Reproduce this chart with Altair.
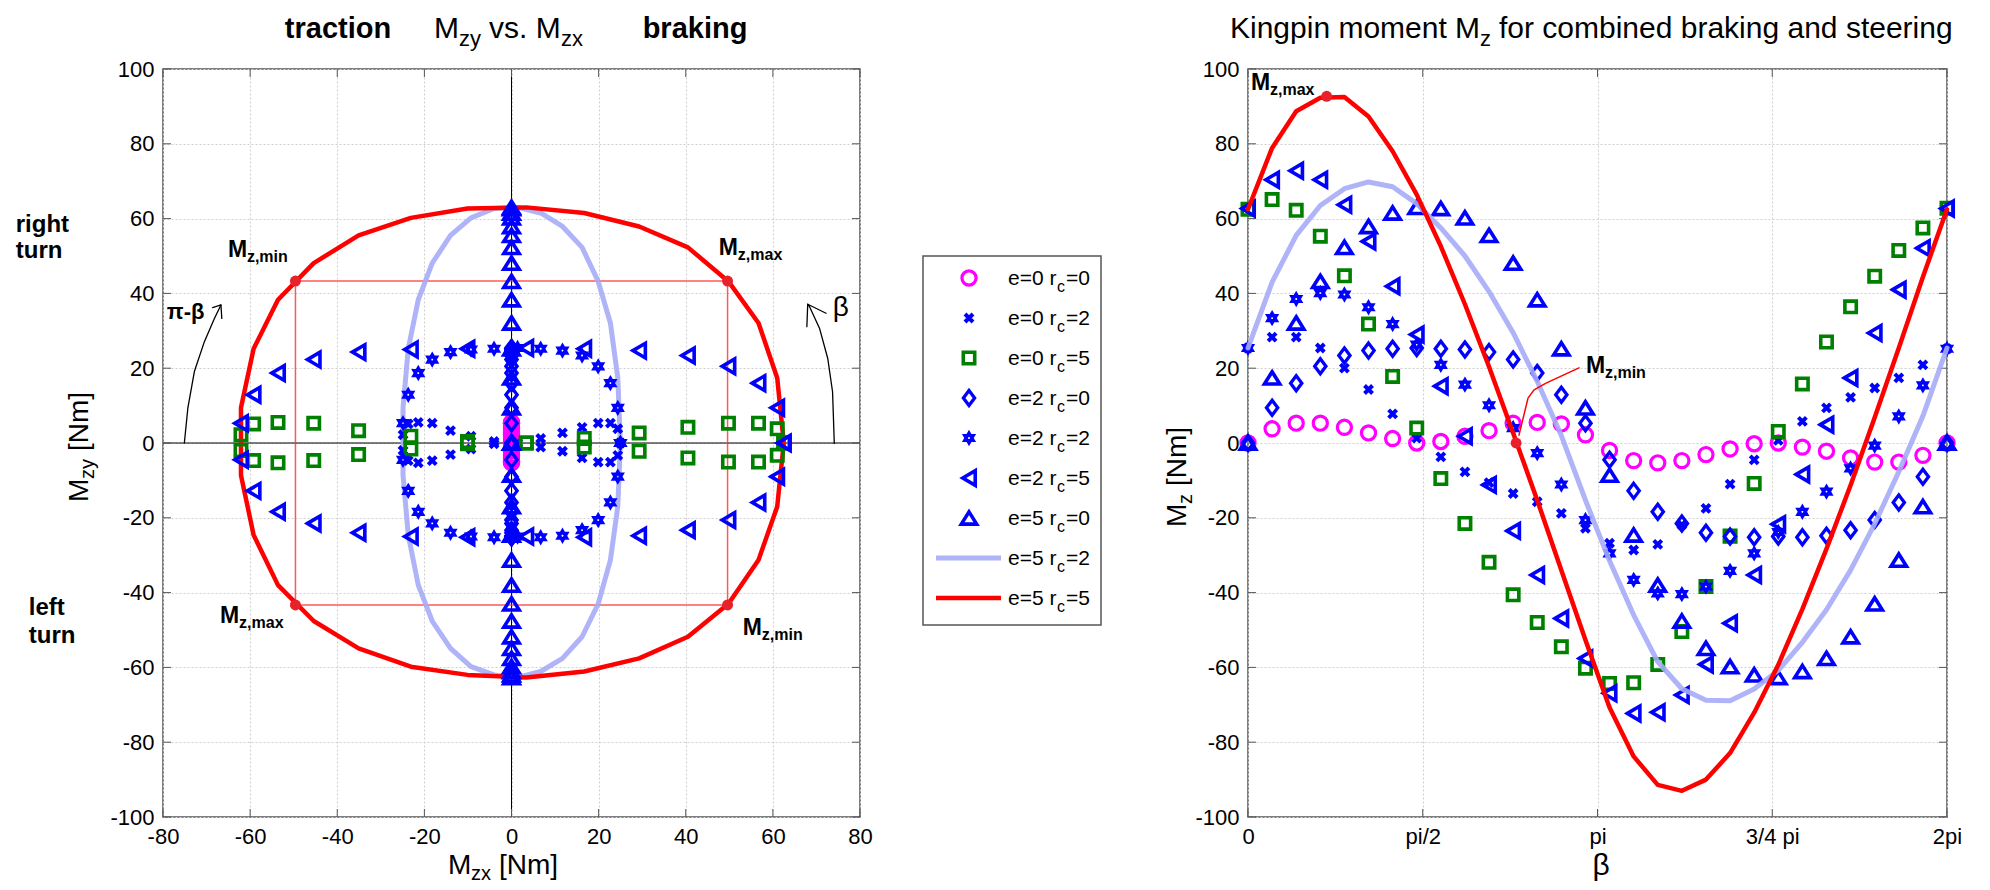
import altair as alt
import pandas as pd

FONT = "Liberation Sans"
BLUE = "#0000ff"
RED = "#ff0000"
GREEN = "#008000"
MAGENTA = "#ff00ff"
LIGHT = "#a6abf7"
MARK_RED = "#e8222a"
GRID = "#cfcfcf"
FRAME = "#555555"

# ---------------- data ----------------
beta = [0.0, 0.2167, 0.4333, 0.6500, 0.8666, 1.0833, 1.3000, 1.5166, 1.7333, 1.9500,
        2.1666, 2.3833, 2.5999, 2.8166, 3.0333, 3.2499, 3.4666, 3.6833, 3.8999, 4.1166,
        4.3332, 4.5499, 4.7666, 4.9832, 5.1999, 5.4166, 5.6332, 5.8499, 6.0665, 6.2832]

# horizontal components M_zx (depend on r_c)
mzx_rc0 = [0.0, 0.0, 0.0, 0.0, 0.0, 0.0, 0.0, 0.0, 0.0, 0.0, 0.0, 0.0, 0.0, 0.0, 0.0,
           0.0, 0.0, 0.0, 0.0, 0.0, 0.0, 0.0, 0.0, 0.0, 0.0, 0.0, 0.0, 0.0, 0.0, 0.0]
mzx_rc2 = [25.0, 24.4, 22.7, 19.9, 16.2, 11.7, 6.7, 1.4, -4.0, -9.3, -14.0, -18.2, -21.4, -23.7, -24.9,
           -24.9, -23.7, -21.4, -18.2, -14.0, -9.3, -4.0, 1.4, 6.7, 11.7, 16.2, 19.9, 22.7, 24.4, 25.0]
mzx_rc5 = [62.5, 61.0, 56.7, 49.8, 40.5, 29.3, 16.7, 3.4, -10.1, -23.1, -35.1, -45.4, -53.6, -59.2, -62.1,
           -62.1, -59.2, -53.6, -45.4, -35.1, -23.1, -10.1, 3.4, 16.7, 29.3, 40.5, 49.8, 56.7, 61.0, 62.5]

# vertical components M_zy (depend on e) == M_z for r_c = 0
mz_e0_rc0 = [0.0, 3.8, 5.3, 5.3, 4.2, 2.7, 1.2, 0.0, 0.4, 1.8, 3.3, 5.3, 5.5, 5.1, 2.2,
             -2.0, -4.7, -5.3, -4.7, -3.1, -1.6, -0.2, 0.0, -1.1, -2.2, -4.0, -5.1, -5.1, -3.3, 0.0]
mz_e2_rc0 = [0.0, 9.4, 16.0, 20.5, 23.4, 24.7, 25.2, 25.4, 25.2, 25.0, 24.3, 22.3, 18.7, 12.9, 5.3,
             -4.5, -12.8, -18.4, -21.5, -24.0, -25.0, -25.2, -25.0, -25.2, -24.8, -23.3, -20.6, -15.9, -9.0, 0.0]
mz_e5_rc0 = [0.0, 17.4, 32.1, 43.2, 52.3, 57.9, 61.5, 63.0, 62.7, 60.2, 55.5, 48.1, 38.3, 25.2, 9.4,
             -8.6, -24.6, -38.0, -47.6, -54.9, -59.8, -62.0, -62.7, -61.1, -57.6, -51.8, -43.0, -31.3, -17.0, 0.0]

# total kingpin moment M_z for the other combinations
mz_e0_rc2 = [25.4, 28.3, 28.3, 25.4, 20.0, 14.3, 7.8, 1.3, -3.7, -7.7, -10.6, -13.5, -15.7, -18.8, -22.8,
             -26.8, -28.6, -27.1, -21.9, -17.5, -11.0, -4.5, 0.7, 5.8, 9.4, 12.2, 14.7, 17.4, 20.9, 25.2]
mz_e0_rc5 = [62.5, 65.1, 62.2, 55.3, 44.7, 31.8, 17.8, 4.0, -9.5, -21.5, -31.9, -40.6, -48.0, -54.5, -60.2,
             -64.3, -64.1, -59.2, -50.4, -38.4, -24.9, -10.8, 3.1, 15.8, 27.0, 36.4, 44.6, 51.5, 57.5, 62.8]
mz_e2_rc2 = [25.4, 33.4, 38.5, 40.1, 39.7, 36.3, 31.8, 26.3, 20.9, 15.6, 10.1, 4.0, -2.7, -11.1, -20.6,
             -29.5, -36.6, -40.2, -40.4, -38.4, -34.2, -29.5, -23.8, -18.4, -13.0, -6.8, -0.7, 7.1, 15.4, 25.2]
mz_e2_rc5 = [62.7, 70.4, 72.8, 70.4, 63.7, 53.9, 41.9, 29.0, 15.2, 1.8, -11.2, -23.5, -35.3, -46.9, -57.6,
             -66.9, -72.3, -72.0, -67.4, -59.2, -48.2, -35.3, -21.7, -8.4, 4.9, 17.4, 29.4, 41.0, 52.1, 62.7]
mz_e5_rc2 = [25.4, 43.0, 55.5, 63.5, 68.0, 69.8, 68.5, 64.0, 57.5, 50.0, 40.5, 29.5, 16.5, 2.0, -15.3,
             -31.5, -46.0, -58.5, -65.7, -68.8, -68.9, -65.8, -60.8, -53.3, -44.6, -34.0, -21.6, -7.7, 7.2, 25.4]
mz_e5_rc5 = [62.5, 78.9, 88.7, 92.3, 92.5, 87.3, 78.0, 66.4, 52.6, 37.1, 20.4, 2.7, -15.3, -34.0, -52.7,
             -70.7, -83.8, -91.4, -93.0, -90.0, -82.9, -72.1, -59.3, -44.4, -28.3, -11.3, 6.8, 25.4, 44.4, 62.5]

# special points
box_x = [-49.6, 49.6, 49.6, -49.6, -49.6]
box_y = [43.3, 43.3, -43.3, -43.3, 43.3]
left_mark_x = [49.6, -49.6, -49.6, 49.6]
left_mark_y = [43.3, 43.3, -43.3, -43.3]
right_mark_beta = [0.707, 2.41]
right_mark_mz = [92.7, 0.0]

# tick values / labels
lx_ticks = [-80, -60, -40, -20, 0, 20, 40, 60, 80]
y_ticks = [-100, -80, -60, -40, -20, 0, 20, 40, 60, 80, 100]
rx_ticks = [0.0, 1.5708, 3.1416, 4.7124, 6.2832]
rx_tick_labels = ["0", "pi/2", "pi", "3/4 pi", "2pi"]

legend_e = ["0", "0", "0", "2", "2", "2", "5", "5", "5"]
legend_rc = ["0", "2", "5", "0", "2", "5", "0", "2", "5"]

# ---------------- styles ----------------
XPATH = "M-1,-1L1,1M-1,1L1,-1"
DIAM = "M0,-1L0.75,0L0,1L-0.75,0Z"
HEX = "M0,-1L0.866,0.5L-0.866,0.5Z M0,1L-0.866,-0.5L0.866,-0.5Z"
TRIL = "M-0.85,0L0.85,-1L0.85,1Z"
TRIU = "M0,-0.8L1,0.8L-1,0.8Z"

ST = {
    "e0rc0": dict(shape="circle", color=MAGENTA, size=200, sw=3.2),
    "e0rc2": dict(shape=XPATH, color=BLUE, size=64, sw=4.0),
    "e0rc5": dict(shape="square", color=GREEN, size=130, sw=3.6),
    "e2rc0": dict(shape=DIAM, color=BLUE, size=225, sw=3.3),
    "e2rc2": dict(shape=HEX, color=BLUE, size=100, sw=3.2),
    "e2rc5": dict(shape=TRIL, color=BLUE, size=215, sw=3.6),
    "e5rc0": dict(shape=TRIU, color=BLUE, size=235, sw=3.6),
}

LW, LH = 697, 748
RW, RH = 699, 748
GW = 328

LXS = alt.Scale(domain=[-80, 80], nice=False, zero=False)
YS = alt.Scale(domain=[-100, 100], nice=False, zero=False)
RXS = alt.Scale(domain=[0, 6.2832], nice=False, zero=False)


def mk_axis(vals, expr):
    return alt.Axis(values=vals, title=None, grid=True, gridColor=GRID, gridDash=[2, 2], gridWidth=1,
                    ticks=False, domain=False, labelFontSize=22, labelFont=FONT, labelColor="black",
                    labelPadding=9, labelFlush=False, labelOverlap=False, labelExpr=expr)


rx_expr = " : ".join(f"abs(datum.value - {v}) < 0.01 ? '{l}'" for v, l in zip(rx_ticks, rx_tick_labels)) + " : ''"
num_expr = "'' + datum.value"
LXA = mk_axis(lx_ticks, num_expr)
LYA = mk_axis(y_ticks, num_expr)
RXA = mk_axis(rx_ticks, rx_expr)
RYA = mk_axis(y_ticks, num_expr)


def lx(f):
    return alt.X(f, type="quantitative", scale=LXS, axis=LXA)


def ly(f):
    return alt.Y(f, type="quantitative", scale=YS, axis=LYA)


def rx(f):
    return alt.X(f, type="quantitative", scale=RXS, axis=RXA)


def ry(f):
    return alt.Y(f, type="quantitative", scale=YS, axis=RYA)


ONE = pd.DataFrame({"d": [0]})


def scatter(xs, ys, key, xe, ye):
    st = ST[key]
    df = pd.DataFrame({"x": xs, "y": ys})
    return alt.Chart(df).mark_point(shape=st["shape"], size=st["size"], strokeWidth=st["sw"],
                                    color=st["color"], filled=False, opacity=1).encode(x=xe("x"), y=ye("y"))


def curve(xs, ys, xe, ye, color, width, opacity=1.0, detail=None):
    df = pd.DataFrame({"x": xs, "y": ys, "k": list(range(len(xs)))})
    enc = dict(x=xe("x"), y=ye("y"), order="k:Q")
    if detail is not None:
        df["g"] = detail
        enc["detail"] = "g:N"
    return alt.Chart(df).mark_line(color=color, strokeWidth=width, opacity=opacity,
                                   strokeCap="round", strokeJoin="round").encode(**enc)


def dtext(x, y, text, xe, ye, size, bold=False, align="left", baseline="alphabetic", dx=0, dy=0):
    df = pd.DataFrame({"x": [x], "y": [y]})
    return alt.Chart(df).mark_text(text=text, font=FONT, fontSize=size, fontWeight="bold" if bold else "normal",
                                   align=align, baseline=baseline, dx=dx, dy=dy, color="black").encode(
        x=xe("x"), y=ye("y"))


def ptext(x, y, text, size, bold=False, align="left", baseline="alphabetic", angle=0):
    kw = dict(text=text, font=FONT, fontSize=size, fontWeight="bold" if bold else "normal",
              align=align, baseline=baseline, color="black")
    if angle:
        kw["angle"] = angle
    return alt.Chart(ONE).mark_text(**kw).encode(x=alt.value(x), y=alt.value(y))


def inner_ticks(xvals, yvals, xe, ye, W, H):
    dx = pd.DataFrame({"v": xvals})
    dy = pd.DataFrame({"v": yvals})
    c = dict(color=FRAME, strokeWidth=1)
    return [
        alt.Chart(dx).mark_rule(**c).encode(x=xe("v"), y=alt.value(0), y2=alt.value(8)),
        alt.Chart(dx).mark_rule(**c).encode(x=xe("v"), y=alt.value(H - 8), y2=alt.value(H)),
        alt.Chart(dy).mark_rule(**c).encode(y=ye("v"), x=alt.value(0), x2=alt.value(8)),
        alt.Chart(dy).mark_rule(**c).encode(y=ye("v"), x=alt.value(W - 8), x2=alt.value(W)),
    ]


def mlabel(x, y, sub, xe, ye):
    return [dtext(x, y, "M", xe, ye, 23, bold=True),
            dtext(x, y, sub, xe, ye, 16, bold=True, dx=19, dy=5)]


# ---------------- left panel ----------------
L = []
L.append(alt.Chart(pd.DataFrame({"v": [0]})).mark_rule(color="black", strokeWidth=1).encode(x=lx("v")))
L.append(alt.Chart(pd.DataFrame({"v": [0]})).mark_rule(color="black", strokeWidth=1).encode(y=ly("v")))
L += inner_ticks(lx_ticks, y_ticks, lx, ly, LW, LH)
L.append(curve(box_x, box_y, lx, ly, "#ff3030", 1.5, 0.8))
L.append(curve(mzx_rc2, mz_e5_rc0, lx, ly, LIGHT, 5, 0.9))
L.append(curve(mzx_rc5, mz_e5_rc0, lx, ly, RED, 4.5))
L.append(scatter(mzx_rc0, mz_e0_rc0, "e0rc0", lx, ly))
L.append(scatter(mzx_rc2, mz_e0_rc0, "e0rc2", lx, ly))
L.append(scatter(mzx_rc5, mz_e0_rc0, "e0rc5", lx, ly))
L.append(scatter(mzx_rc0, mz_e2_rc0, "e2rc0", lx, ly))
L.append(scatter(mzx_rc2, mz_e2_rc0, "e2rc2", lx, ly))
L.append(scatter(mzx_rc5, mz_e2_rc0, "e2rc5", lx, ly))
L.append(scatter(mzx_rc0, mz_e5_rc0, "e5rc0", lx, ly))
L.append(alt.Chart(pd.DataFrame({"x": left_mark_x, "y": left_mark_y})).mark_point(
    shape="circle", filled=True, size=120, color=MARK_RED, opacity=1).encode(x=lx("x"), y=ly("y")))
# curved arrows
arrow_b_x = [74.1, 73.7, 72.6, 70.7, 68.4, 68.0, 67.8, 68.0, 72.2]
arrow_b_y = [-0.1, 13.7, 22.6, 30.7, 36.5, 37.1, 31.1, 37.1, 34.7]
arrow_b_g = ["a", "a", "a", "a", "a", "a", "h", "h", "h"]
L.append(curve(arrow_b_x, arrow_b_y, lx, ly, "black", 1.3, detail=arrow_b_g))
arrow_p_x = [-75.1, -74.3, -72.8, -70.5, -68.2, -66.7, -68.6, -66.7, -66.5]
arrow_p_y = [0.0, 9.3, 19.1, 27.1, 33.3, 36.9, 36.2, 36.9, 33.3]
arrow_p_g = ["a", "a", "a", "a", "a", "a", "h", "h", "h"]
L.append(curve(arrow_p_x, arrow_p_y, lx, ly, "black", 1.3, detail=arrow_p_g))
L.append(dtext(75.6, 36.1, "β", lx, ly, 28, align="center", baseline="middle"))
L.append(dtext(-74.8, 35.0, "π-β", lx, ly, 22, bold=True, align="center", baseline="middle"))
L += mlabel(-65.1, 49.7, "z,min", lx, ly)
L += mlabel(47.6, 50.3, "z,max", lx, ly)
L += mlabel(-66.9, -48.1, "z,max", lx, ly)
L += mlabel(53.1, -51.3, "z,min", lx, ly)
L.append(dtext(-113.8, 56.4, "right", lx, ly, 24, bold=True))
L.append(dtext(-113.8, 49.5, "turn", lx, ly, 24, bold=True))
L.append(dtext(-110.8, -46.0, "left", lx, ly, 24, bold=True))
L.append(dtext(-110.8, -53.5, "turn", lx, ly, 24, bold=True))
# title parts (leading spaces are collapsed in SVG, so gaps are in the positions)
L.append(ptext(175, -31, "traction", 29, bold=True, align="center"))
L.append(ptext(271, -31, "M", 30))
L.append(ptext(296, -23, "zy", 22))
L.append(ptext(326, -31, "vs. M", 30))
L.append(ptext(398, -23, "zx", 22))
L.append(ptext(532, -31, "braking", 29, bold=True, align="center"))
# axis titles
L.append(ptext(285, 805, "M", 28))
L.append(ptext(308, 811, "zx", 20))
L.append(ptext(336, 805, "[Nm]", 28))
L.append(ptext(-75, 433, "M", 28, angle=270))
L.append(ptext(-69, 410, "zy", 20, angle=270))
L.append(ptext(-75, 382, "[Nm]", 28, angle=270))

left = alt.layer(*L).properties(width=LW, height=LH)

# ---------------- right panel ----------------
R = []
R += inner_ticks(rx_ticks, y_ticks, rx, ry, RW, RH)
R.append(scatter(beta, mz_e0_rc0, "e0rc0", rx, ry))
R.append(scatter(beta, mz_e0_rc2, "e0rc2", rx, ry))
R.append(scatter(beta, mz_e0_rc5, "e0rc5", rx, ry))
R.append(scatter(beta, mz_e2_rc0, "e2rc0", rx, ry))
R.append(scatter(beta, mz_e2_rc2, "e2rc2", rx, ry))
R.append(scatter(beta, mz_e2_rc5, "e2rc5", rx, ry))
R.append(scatter(beta, mz_e5_rc0, "e5rc0", rx, ry))
R.append(curve(beta, mz_e5_rc2, rx, ry, LIGHT, 5, 0.9))
R.append(curve(beta, mz_e5_rc5, rx, ry, RED, 4.5))
lead_b = [2.436, 2.517, 2.571, 2.679, 2.975]
lead_m = [2.1, 12.0, 14.2, 16.0, 20.1]
R.append(curve(lead_b, lead_m, rx, ry, RED, 1.5))
R.append(alt.Chart(pd.DataFrame({"x": right_mark_beta, "y": right_mark_mz})).mark_point(
    shape="circle", filled=True, size=120, color=MARK_RED, opacity=1).encode(x=rx("x"), y=ry("y")))
R += mlabel(0.027, 94.4, "z,max", rx, ry)
R += mlabel(3.038, 18.7, "z,min", rx, ry)
R.append(ptext(-18, -31, "Kingpin moment M", 30))
R.append(ptext(232, -23, "z", 22))
R.append(ptext(251, -31, "for combined braking and steering", 30))
R.append(ptext(353, 806, "β", 30, align="center"))
R.append(ptext(-62, 458, "M", 28, angle=270))
R.append(ptext(-56, 435, "z", 20, angle=270))
R.append(ptext(-62, 417, "[Nm]", 28, angle=270))

right = alt.layer(*R).properties(width=RW, height=RH)

# ---------------- legend panel ----------------
leg = pd.DataFrame({
    "i": list(range(9)),
    "main": ["e=" + e + " r" for e in legend_e],
    "tail": ["=" + r for r in legend_rc],
})
LGY = alt.Y("i:Q", scale=alt.Scale(domain=[0, 8], range=[209, 529]), axis=None)
G = []
G.append(alt.Chart(ONE).mark_rect(fill="white", stroke=FRAME, strokeWidth=1.5).encode(
    x=alt.value(33), x2=alt.value(211), y=alt.value(187), y2=alt.value(556)))
keys = ["e0rc0", "e0rc2", "e0rc5", "e2rc0", "e2rc2", "e2rc5", "e5rc0"]
for n, key in enumerate(keys):
    st = ST[key]
    G.append(alt.Chart(leg.iloc[[n]]).mark_point(shape=st["shape"], size=st["size"], strokeWidth=st["sw"],
                                                 color=st["color"], filled=False, opacity=1).encode(
        x=alt.value(79), y=LGY))
G.append(alt.Chart(leg.iloc[[7]]).mark_rule(color=LIGHT, strokeWidth=5, opacity=0.9).encode(
    x=alt.value(46), x2=alt.value(111), y=LGY))
G.append(alt.Chart(leg.iloc[[8]]).mark_rule(color=RED, strokeWidth=4.5).encode(
    x=alt.value(46), x2=alt.value(111), y=LGY))
G.append(alt.Chart(leg).mark_text(font=FONT, fontSize=21, align="left", baseline="alphabetic", dy=7,
                                  color="black").encode(x=alt.value(118), y=LGY, text="main:N"))
G.append(alt.Chart(leg).mark_text(text="c", font=FONT, fontSize=16, align="left", baseline="alphabetic",
                                  dy=14, color="black").encode(x=alt.value(167), y=LGY))
G.append(alt.Chart(leg).mark_text(font=FONT, fontSize=21, align="left", baseline="alphabetic", dy=7,
                                  color="black").encode(x=alt.value(176), y=LGY, text="tail:N"))
legend = alt.layer(*G).properties(width=GW, height=LH, view=alt.ViewBackground(strokeOpacity=0))

chart = alt.hconcat(left, legend, right, spacing=30, bounds="flush").properties(
    padding={"left": 7, "top": 5, "right": 5, "bottom": 5}
).configure_view(stroke=FRAME, strokeWidth=1.5)

chart.save("out.html", embed_options={"renderer": "svg", "actions": False})
